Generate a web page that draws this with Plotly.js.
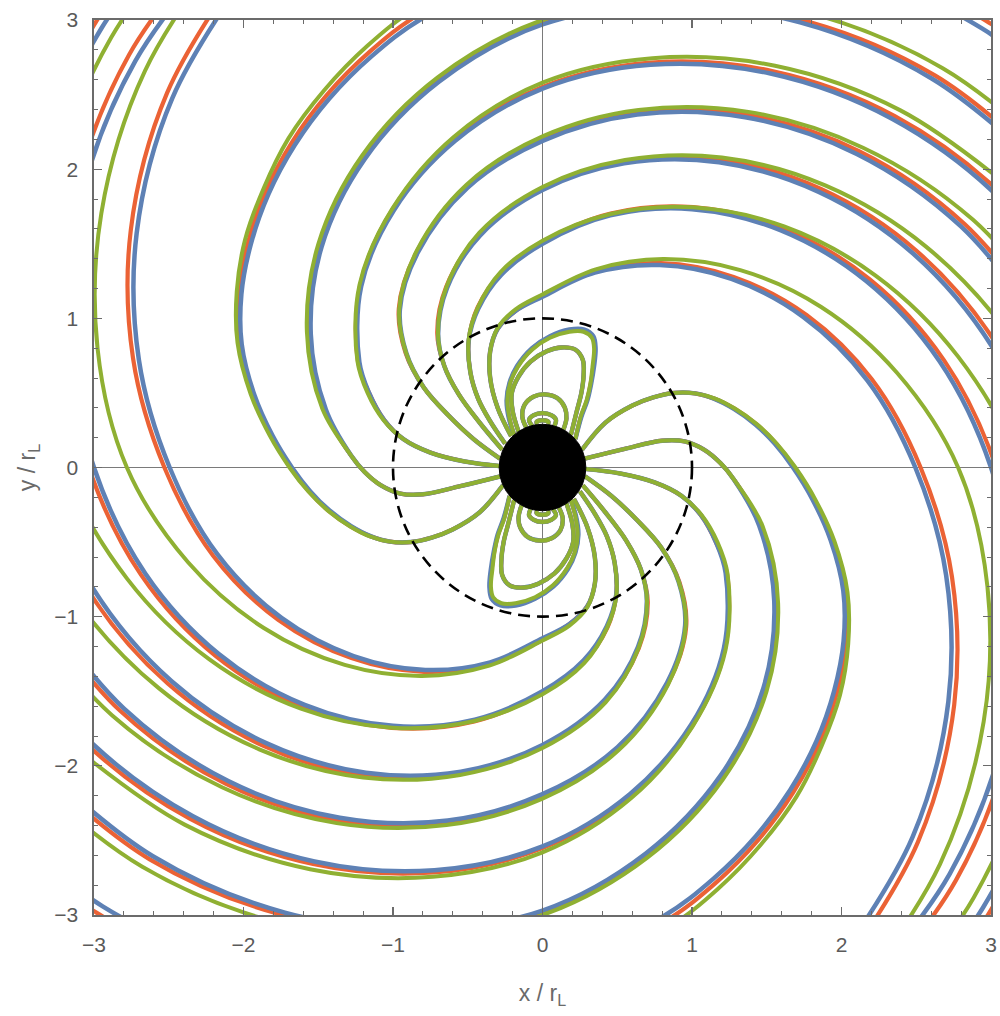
<!DOCTYPE html>
<html>
<head>
<meta charset="utf-8">
<script src="https://cdn.plot.ly/plotly-3.0.1.min.js"></script>
<style>
  body { margin: 0; background: #fff; }
  #chart { width: 1000px; height: 1016px; }
</style>
</head>
<body>
<div id="chart"></div>
<script>
// Field lines, in units of r_L.
// Only the lines leaving the left pole and the upper closed loops are listed;
// the picture is symmetric under (x, y) -> (-x, -y), which gives the rest.

const starRadius = 0.29;
const lightCylinderRadius = 1;

// open lines from the left pole, blue
const blueAlpha = [[-0.265,-0.12],[-0.42,-0.30],[-0.60,-0.415],[-0.74,-0.47],[-0.88,-0.50],[-1.02,-0.497],[-1.15,-0.46],[-1.280,-0.393],[-1.426,-0.287],[-1.553,-0.160],[-1.676,0],[-1.805,0.212],[-1.927,0.486],[-2.012,0.826],[-2.014,1.163],[-1.951,1.497],[-1.833,1.833],[-1.658,2.160],[-1.427,2.472],[-1.142,2.758],[-0.806,3.010],[0,3.378],[0.942,3.516],[1.95,3.378],[2.942,2.942],[3.83,2.21]];
const blueBeta = [[-0.285,-0.06],[-0.55,-0.125],[-0.80,-0.18],[-0.95,-0.175],[-1.08,-0.12],[-1.19,-0.03],[-1.28,0.08],[-1.449,0.388],[-1.550,0.895],[-1.478,1.478],[-1.192,2.064],[-0.693,2.586],[0,2.97],[0.830,3.099],[1.723,2.984],[2.606,2.606],[3.397,1.962]];
const blueGamma = [[-0.29,0.01],[-0.52,0.04],[-0.75,0.10],[-0.93,0.19],[-1.06,0.32],[-1.16,0.50],[-1.225,0.707],[-1.213,1.213],[-0.995,1.723],[-0.586,2.188],[0,2.54],[0.723,2.700],[1.525,2.641],[2.338,2.338],[3.084,1.781],[3.686,0.988]];
const blueDelta = [[-0.285,0.06],[-0.46,0.19],[-0.63,0.35],[-0.794,0.536],[-0.910,0.764],[-0.954,1.059],[-0.833,1.443],[-0.502,1.875],[0,2.19],[0.634,2.367],[1.356,2.348],[2.102,2.102],[2.799,1.616],[3.374,0.904]];
const blueEpsilon = [[-0.27,0.12],[-0.42,0.30],[-0.56,0.49],[-0.657,0.681],[-0.698,0.894],[-0.639,1.202],[-0.417,1.556],[0,1.86],[0.546,2.039],[1.181,2.046],[1.848,1.848],[2.481,1.433],[3.010,0.806],[3.368,0],[3.511,-0.941],[3.379,-1.951],[2.948,-2.948],[2.218,-3.842]];
const blueZeta = [[-0.25,0.16],[-0.35,0.31],[-0.43,0.46],[-0.483,0.641],[-0.493,0.854],[-0.430,1.064],[-0.275,1.293],[0,1.5],[0.453,1.690],[1.0,1.732],[1.591,1.591],[2.165,1.25],[2.656,0.712],[3.0,0],[3.172,-0.850],[3.090,-1.784],[2.724,-2.724],[2.068,-3.582]];
const blueEta = [[-0.21,0.21],[-0.30,0.40],[-0.35,0.60],[-0.35,0.78],[-0.30,0.93],[-0.18,1.05],[0,1.145],[0.350,1.306],[0.784,1.357],[1.264,1.264],[1.746,1.008],[2.174,0.583],[2.494,0],[2.700,-0.723],[2.715,-1.568],[2.476,-2.476],[1.941,-3.362]];

// open lines from the left pole, orange
const orangeAlpha = [[-0.265,-0.12],[-0.42,-0.30],[-0.60,-0.415],[-0.74,-0.47],[-0.88,-0.50],[-1.02,-0.497],[-1.152,-0.461],[-1.284,-0.395],[-1.432,-0.289],[-1.561,-0.161],[-1.686,0],[-1.817,0.214],[-1.941,0.490],[-2.027,0.832],[-2.031,1.173],[-1.969,1.511],[-1.851,1.851],[-1.675,2.182],[-1.442,2.498],[-1.155,2.788],[-0.816,3.044],[0,3.418],[0.955,3.564],[1.978,3.425],[2.984,2.984],[3.88,2.24]];
const orangeBeta = [[-0.285,-0.06],[-0.55,-0.125],[-0.80,-0.18],[-0.95,-0.175],[-1.08,-0.12],[-1.19,-0.03],[-1.28,0.08],[-1.459,0.391],[-1.560,0.901],[-1.486,1.486],[-1.198,2.074],[-0.696,2.598],[0,2.983],[0.834,3.114],[1.733,3.001],[2.627,2.627],[3.427,1.979]];
const orangeGamma = [[-0.29,0.01],[-0.52,0.04],[-0.75,0.10],[-0.93,0.19],[-1.06,0.32],[-1.16,0.50],[-1.234,0.712],[-1.220,1.220],[-1.001,1.733],[-0.589,2.200],[0,2.552],[0.727,2.715],[1.535,2.658],[2.356,2.356],[3.110,1.796],[3.720,0.997]];
const orangeDelta = [[-0.285,0.06],[-0.46,0.19],[-0.63,0.35],[-0.794,0.536],[-0.916,0.769],[-0.961,1.066],[-0.838,1.452],[-0.505,1.887],[0,2.202],[0.638,2.381],[1.366,2.365],[2.120,2.120],[2.825,1.631],[3.408,0.913]];
const orangeEpsilon = [[-0.27,0.12],[-0.42,0.30],[-0.56,0.49],[-0.657,0.681],[-0.704,0.902],[-0.644,1.211],[-0.420,1.566],[0,1.872],[0.550,2.053],[1.191,2.063],[1.866,1.866],[2.507,1.448],[3.044,0.815],[3.408,0],[3.555,-0.953],[3.422,-1.976],[2.987,-2.987],[2.248,-3.894]];
const orangeZeta = [[-0.25,0.16],[-0.35,0.31],[-0.43,0.46],[-0.483,0.641],[-0.493,0.854],[-0.434,1.073],[-0.277,1.303],[0,1.51],[0.456,1.702],[1.008,1.745],[1.605,1.605],[2.187,1.263],[2.685,0.720],[3.035,0],[3.215,-0.862],[3.133,-1.809],[2.766,-2.766],[2.100,-3.638]];
const orangeEta = [[-0.21,0.21],[-0.30,0.40],[-0.35,0.60],[-0.35,0.78],[-0.30,0.93],[-0.18,1.05],[0,1.155],[0.353,1.318],[0.792,1.370],[1.278,1.278],[1.768,1.021],[2.203,0.591],[2.529,0],[2.739,-0.733],[2.754,-1.591],[2.511,-2.511],[1.969,-3.410]];

// open lines from the left pole, green
const greenAlpha = [[-0.265,-0.12],[-0.42,-0.30],[-0.60,-0.415],[-0.74,-0.47],[-0.88,-0.50],[-1.02,-0.497],[-1.154,-0.462],[-1.286,-0.395],[-1.435,-0.289],[-1.566,-0.161],[-1.692,0],[-1.825,0.215],[-1.952,0.493],[-2.04,0.836],[-2.045,1.18],[-1.99,1.525],[-1.867,1.867],[-1.70,2.205],[-1.46,2.529],[-1.171,2.827],[-0.828,3.091],[0,3.48]];
const greenBeta = [[-0.285,-0.06],[-0.55,-0.125],[-0.80,-0.18],[-0.95,-0.175],[-1.08,-0.12],[-1.19,-0.03],[-1.28,0.08],[-1.473,0.395],[-1.576,0.91],[-1.499,1.499],[-1.207,2.090],[-0.701,2.615],[0,3.0],[0.844,3.151],[1.762,3.052],[2.677,2.677],[3.505,2.024]];
const greenGamma = [[-0.29,0.01],[-0.52,0.04],[-0.75,0.10],[-0.93,0.19],[-1.065,0.32],[-1.17,0.50],[-1.238,0.715],[-1.224,1.224],[-1.003,1.737],[-0.594,2.216],[0,2.58],[0.735,2.744],[1.555,2.693],[2.394,2.394],[3.180,1.836]];
const greenDelta = [[-0.285,0.06],[-0.46,0.19],[-0.63,0.35],[-0.794,0.536],[-0.912,0.766],[-0.958,1.064],[-0.840,1.455],[-0.508,1.896],[0,2.22],[0.642,2.397],[1.377,2.384],[2.144,2.144],[2.878,1.662],[3.50,0.938]];
const greenEpsilon = [[-0.27,0.12],[-0.42,0.30],[-0.56,0.49],[-0.657,0.681],[-0.699,0.896],[-0.643,1.209],[-0.422,1.574],[0,1.88],[0.552,2.061],[1.20,2.078],[1.891,1.891],[2.565,1.481],[3.150,0.844],[3.57,0],[3.7,-1.0]];
const greenZeta = [[-0.25,0.16],[-0.35,0.31],[-0.43,0.46],[-0.483,0.641],[-0.494,0.857],[-0.433,1.072],[-0.279,1.312],[0,1.52],[0.455,1.699],[1.007,1.744],[1.616,1.616],[2.228,1.287],[2.779,0.745],[3.199,0],[3.374,-0.904],[3.279,-1.893],[2.884,-2.884],[2.186,-3.786]];
const greenEta = [[-0.21,0.21],[-0.30,0.40],[-0.35,0.60],[-0.35,0.78],[-0.30,0.935],[-0.18,1.06],[0,1.16],[0.356,1.328],[0.807,1.397],[1.323,1.323],[1.864,1.076],[2.371,0.635],[2.78,0],[2.976,-0.797],[2.951,-1.704],[2.659,-2.659],[2.064,-3.575]];

// closed loops above the star
const blueLoop1 = [[-0.19,0.22],[-0.225,0.33],[-0.24,0.45],[-0.22,0.57],[-0.17,0.68],[-0.07,0.80],[0.05,0.88],[0.18,0.925],[0.28,0.925],[0.34,0.88],[0.355,0.80],[0.345,0.68],[0.325,0.56],[0.30,0.45],[0.26,0.34],[0.22,0.19]];
const orangeLoop1 = [[-0.19,0.22],[-0.222,0.33],[-0.237,0.45],[-0.217,0.57],[-0.167,0.677],[-0.07,0.795],[0.05,0.875],[0.18,0.917],[0.278,0.917],[0.335,0.875],[0.35,0.80],[0.34,0.68],[0.322,0.56],[0.297,0.45],[0.257,0.34],[0.22,0.19]];
const greenLoop1 = [[-0.19,0.22],[-0.22,0.33],[-0.235,0.45],[-0.215,0.57],[-0.165,0.675],[-0.07,0.79],[0.05,0.87],[0.18,0.91],[0.275,0.91],[0.33,0.87],[0.345,0.80],[0.335,0.68],[0.32,0.56],[0.295,0.45],[0.255,0.34],[0.22,0.19]];
const loop2 = [[-0.16,0.24],[-0.20,0.38],[-0.205,0.50],[-0.16,0.61],[-0.08,0.71],[0.03,0.78],[0.13,0.805],[0.22,0.79],[0.27,0.72],[0.275,0.62],[0.26,0.50],[0.23,0.38],[0.19,0.22]];
const smallLoop1 = [[-0.11,0.27],[-0.135,0.34],[-0.12,0.42],[-0.06,0.475],[0.02,0.49],[0.10,0.465],[0.15,0.40],[0.16,0.33],[0.14,0.255]];
const smallLoop2 = [[-0.07,0.28],[-0.09,0.32],[-0.06,0.35],[0.0,0.365],[0.06,0.35],[0.09,0.32],[0.08,0.28]];
const smallLoop3 = [[-0.035,0.29],[-0.04,0.305],[0.0,0.317],[0.04,0.305],[0.035,0.29]];

const colors = { orange: '#EB6235', blue: '#5E81B5', green: '#8FB032' };

// each line plus its point reflection, joined with gaps
function joinLines(lines) {
    const x = [];
    const y = [];
    lines.forEach(function(line) {
        const mirrored = line.map(p => [-p[0], -p[1]]);
        [line, mirrored].forEach(function(part) {
            part.forEach(function(p) {
                x.push(p[0]);
                y.push(p[1]);
            });
            x.push(null);
            y.push(null);
        });
    });
    return { x: x, y: y };
}

function fieldTrace(lines, color, width) {
    const xy = joinLines(lines);
    return {
        type: 'scatter',
        mode: 'lines',
        x: xy.x,
        y: xy.y,
        line: { color: color, width: width, shape: 'spline', smoothing: 1 },
        connectgaps: false,
        hoverinfo: 'skip'
    };
}

const shared = [loop2, smallLoop1, smallLoop2, smallLoop3];

const traces = [
    fieldTrace([orangeAlpha, orangeBeta, orangeGamma, orangeDelta, orangeEpsilon, orangeZeta, orangeEta, orangeLoop1].concat(shared), colors.orange, 4.2),
    fieldTrace([blueAlpha, blueBeta, blueGamma, blueDelta, blueEpsilon, blueZeta, blueEta, blueLoop1].concat(shared), colors.blue, 4.5),
    fieldTrace([greenAlpha, greenBeta, greenGamma, greenDelta, greenEpsilon, greenZeta, greenEta, greenLoop1].concat(shared), colors.green, 4)
];

const frameColor = '#6b6b6b';

function axis(titleText, standoff) {
    return {
        range: [-3, 3],
        dtick: 1,
        showgrid: false,
        zeroline: true,
        zerolinecolor: '#7a7a7a',
        zerolinewidth: 1,
        showline: true,
        mirror: 'allticks',
        linecolor: frameColor,
        linewidth: 1.6,
        ticks: 'inside',
        ticklen: 8,
        tickwidth: 1.3,
        tickcolor: frameColor,
        minor: { ticks: 'inside', dtick: 0.2, ticklen: 4, tickwidth: 1, tickcolor: frameColor },
        ticklabelstandoff: 10,
        tickfont: { size: 21, color: '#5a5a5a' },
        title: { text: titleText, font: { size: 23, color: '#6a6a6a' }, standoff: standoff },
        layer: 'above traces',
        fixedrange: true
    };
}

const layout = {
    width: 1000,
    height: 1016,
    margin: { l: 94, r: 9, t: 20, b: 101 },
    paper_bgcolor: 'white',
    plot_bgcolor: 'white',
    showlegend: false,
    font: { family: 'Liberation Sans, Arial, sans-serif', color: '#5a5a5a' },
    xaxis: axis('x / r<sub>L</sub>', 30),
    yaxis: axis('y / r<sub>L</sub>', 12),
    shapes: [
        {
            type: 'circle', xref: 'x', yref: 'y', layer: 'above',
            x0: -lightCylinderRadius, x1: lightCylinderRadius,
            y0: -lightCylinderRadius, y1: lightCylinderRadius,
            line: { color: 'black', width: 2.6, dash: '12px,7px' }
        },
        {
            type: 'circle', xref: 'x', yref: 'y', layer: 'above',
            x0: -starRadius, x1: starRadius, y0: -starRadius, y1: starRadius,
            fillcolor: 'black', line: { color: 'black', width: 1 }
        }
    ]
};

Plotly.newPlot('chart', traces, layout, { displayModeBar: false, staticPlot: true });
</script>
</body>
</html>
